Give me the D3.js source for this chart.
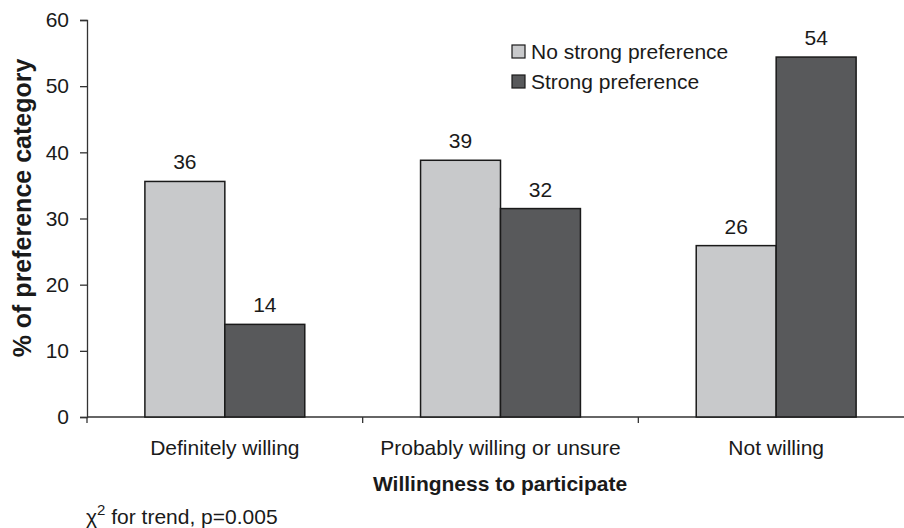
<!DOCTYPE html>
<html>
<head>
<meta charset="utf-8">
<script src="https://cdn.jsdelivr.net/npm/d3@7"></script>
<style>
  body { margin: 0; background: #fff; }
  text { font-family: "Liberation Sans", Arial, sans-serif; fill: #1a1a1a; }
</style>
</head>
<body>
<div id="chart"></div>
<script>
// Data
const categories = ["Definitely willing", "Probably willing or unsure", "Not willing"];
const seriesNames = ["No strong preference", "Strong preference"];
const noStrong = [35.6, 38.8, 25.9];
const strong = [14.0, 31.5, 54.4];
const barLabels = [["36", "39", "26"], ["14", "32", "54"]];
const yTicks = [0, 10, 20, 30, 40, 50, 60];

const width = 904, height = 528;
const fontSize = 21;

const svg = d3.select("#chart")
    .append("svg")
    .attr("width", width)
    .attr("height", height);

const colors = ["#c8c9cb", "#58595b"];

// scales
const x = d3.scaleBand()
    .domain(categories)
    .range([87, 914])
    .padding(0);

const x1 = d3.scaleBand()
    .domain(seriesNames)
    .range([x.bandwidth() * 0.21, x.bandwidth() * 0.79])
    .padding(0);

const y = d3.scaleLinear()
    .domain([0, 60])
    .range([417, 20]);

// Y axis
const yAxis = svg.append("g")
    .attr("transform", "translate(87,0)")
    .call(d3.axisLeft(y).tickValues(yTicks).tickSize(7).tickPadding(11));
yAxis.select(".domain").attr("stroke", "#333").attr("stroke-width", 1.3);
yAxis.selectAll(".tick line").attr("stroke", "#333").attr("stroke-width", 1.3);
yAxis.selectAll("text")
    .style("font-size", fontSize + "px")
    .style("font-family", "Liberation Sans, Arial, sans-serif")
    .attr("fill", "#1a1a1a");

// X axis line and boundary ticks
svg.append("line")
    .attr("x1", x.range()[0]).attr("x2", x.range()[1])
    .attr("y1", y(0)).attr("y2", y(0))
    .attr("stroke", "#333").attr("stroke-width", 1.3);

const bounds = categories.map(c => x(c)).concat([x(categories[2]) + x.bandwidth()]);
svg.append("g").selectAll("line")
    .data(bounds)
    .enter()
    .append("line")
    .attr("x1", d => d).attr("x2", d => d)
    .attr("y1", y(0)).attr("y2", y(0) + 6)
    .attr("stroke", "#333").attr("stroke-width", 1.3);

// category labels
svg.append("g").selectAll("text")
    .data(categories)
    .enter()
    .append("text")
    .attr("x", d => x(d) + x.bandwidth() / 2)
    .attr("y", 455)
    .attr("text-anchor", "middle")
    .style("font-size", fontSize + "px")
    .text(d => d);

// bars
const series = [noStrong, strong];
const groups = svg.append("g").selectAll("g")
    .data(series)
    .enter()
    .append("g")
    .attr("fill", (d, i) => colors[i]);

groups.selectAll("rect")
    .data((d, i) => d.map((v, j) => ({ v: v, cat: categories[j], s: seriesNames[i] })))
    .enter()
    .append("rect")
    .attr("x", d => x(d.cat) + x1(d.s))
    .attr("y", d => y(d.v))
    .attr("width", x1.bandwidth())
    .attr("height", d => y(0) - y(d.v))
    .attr("stroke", "#1a1a1a")
    .attr("stroke-width", 1.5);

// value labels
groups.selectAll("text")
    .data((d, i) => d.map((v, j) => ({ v: v, cat: categories[j], s: seriesNames[i], lab: barLabels[i][j] })))
    .enter()
    .append("text")
    .attr("x", d => x(d.cat) + x1(d.s) + x1.bandwidth() / 2)
    .attr("y", d => y(d.v) - 12)
    .attr("text-anchor", "middle")
    .style("font-size", fontSize + "px")
    .style("fill", "#1a1a1a")
    .text(d => d.lab);

// legend
const legend = svg.append("g").selectAll("g")
    .data(seriesNames)
    .enter()
    .append("g")
    .attr("transform", (d, i) => "translate(512," + (45 + i * 30) + ")");
legend.append("rect")
    .attr("width", 13).attr("height", 13)
    .attr("fill", (d, i) => colors[i])
    .attr("stroke", "#1a1a1a").attr("stroke-width", 1.2);
legend.append("text")
    .attr("x", 19).attr("y", 14)
    .style("font-size", fontSize + "px")
    .text(d => d);

// axis titles
svg.append("text")
    .attr("x", 500)
    .attr("y", 491)
    .attr("text-anchor", "middle")
    .style("font-size", "21px")
    .style("font-weight", "bold")
    .text("Willingness to participate");

svg.append("text")
    .attr("transform", "translate(31,208) rotate(-90)")
    .attr("text-anchor", "middle")
    .style("font-size", "25px")
    .style("font-weight", "bold")
    .text("% of preference category");

// note
const note = svg.append("text")
    .attr("x", 86)
    .attr("y", 524)
    .style("font-size", fontSize + "px");
note.append("tspan").text("\u03C7");
note.append("tspan").attr("dy", -9).style("font-size", "15px").text("2");
note.append("tspan").attr("dy", 9).text(" for trend, p=0.005");
</script>
</body>
</html>
